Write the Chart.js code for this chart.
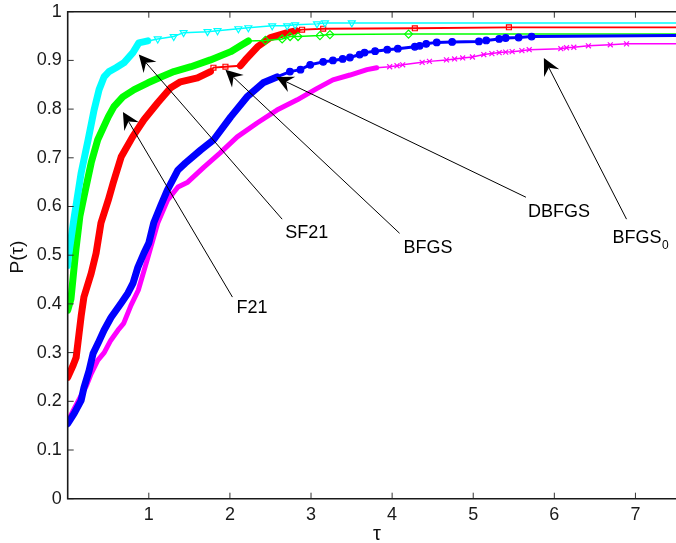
<!DOCTYPE html>
<html>
<head>
<meta charset="utf-8">
<script src="https://cdn.jsdelivr.net/npm/chart.js@4.4.0/dist/chart.umd.min.js"></script>
<style>
  html, body { margin: 0; padding: 0; background: #fff; }
  #wrap { width: 676px; height: 543px; }
</style>
</head>
<body>
<div id="wrap"><canvas id="chart" width="676" height="543"></canvas></div>
<script>
// performance profiles
const sf21Tau = [0, 0.006, 0.08, 0.166, 0.252, 0.325, 0.387, 0.448, 0.509, 0.595, 0.693, 0.804, 0.877, 0.988, 1.11, 1.307, 1.429, 1.724, 1.847, 2.104, 2.227, 2.521, 2.706, 2.804, 3.074, 3.172, 3.503, 7.5];
const sf21P = [0.479, 0.494, 0.578, 0.669, 0.737, 0.798, 0.840, 0.866, 0.877, 0.885, 0.895, 0.916, 0.936, 0.940, 0.944, 0.949, 0.957, 0.959, 0.961, 0.965, 0.967, 0.971, 0.971, 0.973, 0.975, 0.977, 0.977, 0.977];

const f21Tau = [0, 0.04, 0.07, 0.10, 0.15, 0.20, 0.29, 0.37, 0.50, 0.57, 0.68, 0.82, 0.99, 1.15, 1.31, 1.52, 1.76, 2.01, 2.15, 2.227, 2.436, 2.644, 2.742, 2.840, 3.110, 3.233, 4.202, 7.5];
const f21P = [0.387, 0.41, 0.46, 0.51, 0.58, 0.62, 0.69, 0.737, 0.784, 0.805, 0.825, 0.84, 0.854, 0.866, 0.877, 0.887, 0.901, 0.918, 0.932, 0.940, 0.941, 0.944, 0.949, 0.949, 0.951, 0.953, 0.954, 0.954];

const bfgsTau = [0, 0.067, 0.104, 0.166, 0.20, 0.29, 0.35, 0.41, 0.50, 0.56, 0.66, 0.80, 0.94, 1.11, 1.27, 1.39, 1.60, 1.76, 1.797, 1.945, 2.129, 2.19, 2.34, 2.50, 2.71, 2.82, 2.89, 3.15, 4.28, 5.44, 7.5];
const bfgsP = [0.249, 0.274, 0.290, 0.375, 0.414, 0.463, 0.504, 0.566, 0.613, 0.648, 0.702, 0.743, 0.778, 0.813, 0.844, 0.856, 0.864, 0.877, 0.885, 0.887, 0.889, 0.901, 0.928, 0.947, 0.957, 0.961, 0.963, 0.965, 0.966, 0.968, 0.968];

const dbfgsTau = [0, 0.08, 0.166, 0.20, 0.264, 0.313, 0.374, 0.448, 0.534, 0.656, 0.742, 0.804, 0.865, 0.939, 1.00, 1.06, 1.15, 1.23, 1.36, 1.45, 1.64, 1.80, 2.01, 2.21, 2.41, 2.58, 2.74, 2.87, 2.99, 3.15, 3.27, 3.39, 3.48, 3.60, 3.66, 3.79, 3.94, 4.07, 4.28, 4.34, 4.42, 4.55, 4.74, 5.07, 5.16, 5.32, 5.40, 5.56, 5.72, 7.5];
const dbfgsP = [0.154, 0.175, 0.202, 0.228, 0.263, 0.298, 0.319, 0.346, 0.372, 0.401, 0.422, 0.442, 0.475, 0.504, 0.525, 0.566, 0.603, 0.634, 0.675, 0.689, 0.716, 0.737, 0.784, 0.825, 0.854, 0.866, 0.877, 0.881, 0.891, 0.897, 0.900, 0.903, 0.906, 0.912, 0.916, 0.919, 0.922, 0.924, 0.928, 0.930, 0.934, 0.937, 0.938, 0.939, 0.941, 0.944, 0.946, 0.947, 0.949, 0.951];

const bfgs0Tau = [0, 0.067, 0.166, 0.23, 0.29, 0.37, 0.45, 0.53, 0.62, 0.69, 0.78, 0.87, 0.99, 1.11, 1.23, 1.36, 1.48, 1.68, 1.88, 2.09, 2.34, 2.58, 2.83, 3.07, 3.27, 3.48, 3.69, 3.81, 3.97, 4.06, 4.13, 4.37, 4.46, 4.67, 4.77, 4.87, 4.99, 5.13, 5.23, 5.32, 5.40, 5.48, 5.60, 5.69, 6.08, 6.15, 6.24, 6.42, 6.69, 6.89, 7.5];
const bfgs0P = [0.158, 0.181, 0.212, 0.232, 0.257, 0.284, 0.30, 0.325, 0.346, 0.36, 0.397, 0.428, 0.496, 0.566, 0.613, 0.64, 0.65, 0.681, 0.71, 0.743, 0.772, 0.798, 0.819, 0.842, 0.86, 0.87, 0.881, 0.885, 0.887, 0.889, 0.891, 0.896, 0.898, 0.901, 0.903, 0.905, 0.907, 0.912, 0.914, 0.916, 0.917, 0.918, 0.920, 0.922, 0.924, 0.926, 0.927, 0.930, 0.932, 0.934, 0.934];

const xTicks = [1, 2, 3, 4, 5, 6, 7];
const yTicks = [0, 0.1, 0.2, 0.3, 0.4, 0.5, 0.6, 0.7, 0.8, 0.9, 1];

// arrow annotations (head, tail and label anchor in data units)
const arrowLabels = ["SF21", "F21", "BFGS", "DBFGS", "BFGS_0"];
const arrowHeadTau = [0.877, 0.681, 1.945, 2.571, 5.871];
const arrowHeadP = [0.912, 0.794, 0.881, 0.866, 0.905];
const arrowTailTau = [2.644, 2.031, 4.092, 5.650, 6.89];
const arrowTailP = [0.574, 0.414, 0.545, 0.619, 0.574];
const labelTau = [2.681, 2.080, 4.141, 5.675, 6.718];
const labelP = [0.535, 0.381, 0.504, 0.578, 0.525];

const FONT = "'Liberation Sans', Arial, sans-serif";

// dense part of each profile is drawn as a thick band, the rest as a thin line with markers
const series = [
  { tau: dbfgsTau, p: dbfgsP, color: "#0000ff", bands: [[0, 2.6]], thick: 7, thin: 3, marker: "circle", radius: 3.3, fill: true },
  { tau: bfgs0Tau, p: bfgs0P, color: "#ff00ff", bands: [[0, 3.85]], thick: 5, thin: 1.5, marker: "crossRot", radius: 3.5 },
  { tau: sf21Tau, p: sf21P, color: "#00ffff", bands: [[0, 0.99]], thick: 7, thin: 1.5, marker: "triangle", rotation: 180, radius: 4 },
  { tau: f21Tau, p: f21P, color: "#00ff00", bands: [[0, 2.23]], thick: 7, thin: 1.5, marker: "rectRot", radius: 4 },
  { tau: bfgsTau, p: bfgsP, color: "#ff0000", bands: [[0, 1.77], [2.12, 2.85]], thick: 7, thin: 1.8, marker: "rect", radius: 3.5 },
];

const inBand = (t, bands) => bands.some(([a, b]) => t >= a && t <= b);

const datasets = [];
series.forEach((s) => {
  const pts = s.tau.map((t, i) => ({ x: t, y: s.p[i] }));
  s.bands.forEach(([a, b]) => {
    datasets.push({
      data: pts.filter((pt) => pt.x >= a && pt.x <= b),
      borderColor: s.color,
      borderWidth: s.thick,
      borderCapStyle: "round",
      borderJoinStyle: "round",
      pointRadius: 0,
    });
  });
  datasets.push({
    data: pts,
    borderColor: s.color,
    borderWidth: s.thin,
    pointStyle: s.marker,
    pointRotation: s.rotation || 0,
    pointRadius: (ctx) =>
      inBand(ctx.raw.x, s.bands) || ctx.dataIndex === pts.length - 1 ? 0 : s.radius,
    pointBackgroundColor: s.fill ? s.color : "rgba(0,0,0,0)",
    pointBorderColor: s.color,
    pointBorderWidth: 1.2,
  });
});

const drawArrow = (ctx, x1, y1, x2, y2) => {
  const ang = Math.atan2(y2 - y1, x2 - x1);
  const c = Math.cos(ang);
  const s = Math.sin(ang);
  const L = 17, W = 8.5, N = 11;
  ctx.beginPath();
  ctx.moveTo(x1, y1);
  ctx.lineTo(x2 - N * c, y2 - N * s);
  ctx.stroke();
  ctx.beginPath();
  ctx.moveTo(x2, y2);
  ctx.lineTo(x2 - L * c + W * s, y2 - L * s - W * c);
  ctx.lineTo(x2 - N * c, y2 - N * s);
  ctx.lineTo(x2 - L * c - W * s, y2 - L * s + W * c);
  ctx.closePath();
  ctx.fill();
};

const frame = {
  id: "frame",
  afterDatasetsDraw(chart) {
    const { ctx, chartArea: a, scales } = chart;
    ctx.save();
    ctx.strokeStyle = "#333";
    ctx.lineWidth = 1;
    xTicks.forEach((v) => {
      const x = scales.x.getPixelForValue(v);
      ctx.beginPath();
      ctx.moveTo(x, a.bottom);
      ctx.lineTo(x, a.bottom - 6);
      ctx.moveTo(x, a.top);
      ctx.lineTo(x, a.top + 6);
      ctx.stroke();
    });
    yTicks.forEach((v) => {
      const y = scales.y.getPixelForValue(v);
      ctx.beginPath();
      ctx.moveTo(a.left, y);
      ctx.lineTo(a.left + 6, y);
      ctx.stroke();
    });
    ctx.strokeStyle = "#1a1a1a";
    ctx.lineWidth = 1.6;
    ctx.beginPath();
    ctx.moveTo(a.right, a.top);
    ctx.lineTo(a.left, a.top);
    ctx.lineTo(a.left, a.bottom);
    ctx.lineTo(a.right, a.bottom);
    ctx.stroke();
    ctx.restore();
  },
  afterDraw(chart) {
    const { ctx, scales } = chart;
    const px = (t) => scales.x.getPixelForValue(t);
    const py = (p) => scales.y.getPixelForValue(p);
    ctx.save();
    ctx.strokeStyle = "#000";
    ctx.fillStyle = "#000";
    ctx.lineWidth = 1;
    arrowLabels.forEach((label, i) => {
      drawArrow(ctx, px(arrowTailTau[i]), py(arrowTailP[i]), px(arrowHeadTau[i]), py(arrowHeadP[i]));
      const [main, sub] = label.split("_");
      const lx = px(labelTau[i]);
      const ly = py(labelP[i]);
      ctx.font = `18px ${FONT}`;
      ctx.textAlign = "left";
      ctx.textBaseline = "alphabetic";
      ctx.fillText(main, lx, ly);
      if (sub) {
        const w = ctx.measureText(main).width;
        ctx.font = `12px ${FONT}`;
        ctx.fillText(sub, lx + w + 0.5, ly + 6);
      }
    });

    // axis titles
    ctx.fillStyle = "#111";
    ctx.font = `20px ${FONT}`;
    ctx.textAlign = "center";
    ctx.fillText("\u03c4", 377, 540);
    ctx.translate(23, 257);
    ctx.rotate(-Math.PI / 2);
    ctx.font = `19px ${FONT}`;
    ctx.fillText("P(\u03c4)", 0, 0);
    ctx.restore();
  },
};

new Chart(document.getElementById("chart"), {
  type: "line",
  data: { datasets },
  options: {
    responsive: false,
    animation: false,
    layout: { padding: { top: 11.7, right: 0, left: 0, bottom: 0 } },
    elements: { line: { tension: 0 } },
    plugins: { legend: { display: false }, tooltip: { enabled: false } },
    scales: {
      x: {
        type: "linear",
        min: 0,
        max: 7.5,
        afterBuildTicks: (scale) => {
          scale.ticks = xTicks.map((v) => ({ value: v }));
        },
        afterFit: (scale) => {
          scale.height = 44.3;
          scale.paddingLeft = 0;
          scale.paddingRight = 0;
        },
        grid: { display: false, drawTicks: false },
        border: { display: false },
        ticks: {
          padding: 6,
          maxRotation: 0,
          autoSkip: false,
          color: "#1a1a1a",
          font: { family: FONT, size: 18 },
        },
      },
      y: {
        min: 0,
        max: 1,
        afterBuildTicks: (scale) => {
          scale.ticks = yTicks.map((v) => ({ value: v }));
        },
        afterFit: (scale) => {
          scale.width = 67.7;
          scale.paddingTop = 0;
          scale.paddingBottom = 0;
        },
        grid: { display: false, drawTicks: false },
        border: { display: false },
        ticks: {
          padding: 6,
          color: "#1a1a1a",
          font: { family: FONT, size: 18 },
          callback: (v) => (v === 0 ? "0" : v === 1 ? "1" : v.toFixed(1)),
        },
      },
    },
  },
  plugins: [frame],
});
</script>
</body>
</html>
